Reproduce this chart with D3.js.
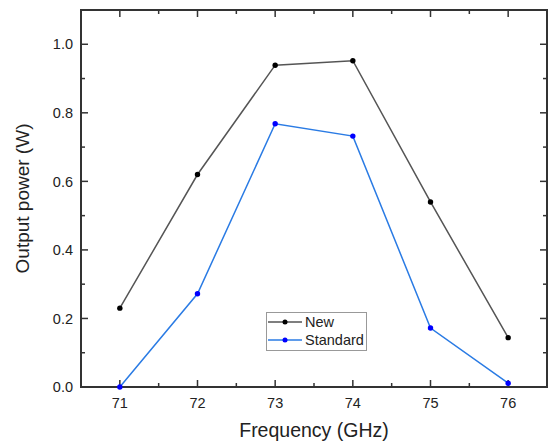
<!DOCTYPE html>
<html>
<head>
<meta charset="utf-8">
<script src="https://cdn.jsdelivr.net/npm/d3@7"></script>
<style>
  body { margin: 0; background: #fff; }
  svg { font-family: "Liberation Sans", Arial, sans-serif; }
</style>
</head>
<body>
<div id="chart"></div>
<script>
const frequencies = [71, 72, 73, 74, 75, 76];
const newPower = [0.23, 0.62, 0.939, 0.952, 0.54, 0.144];
const standardPower = [0.0, 0.272, 0.768, 0.732, 0.172, 0.011];
const xTicks = [71, 72, 73, 74, 75, 76];
const yTicks = [0.0, 0.2, 0.4, 0.6, 0.8, 1.0];

const width = 552;
const height = 443;
const margin = { top: 10, right: 5, bottom: 56, left: 81 };

const svg = d3.select('#chart')
    .append('svg')
        .attr('width', width)
        .attr('height', height);

const x = d3.scaleLinear()
    .domain([70.5, 76.5])
    .range([margin.left, width - margin.right]);

const y = d3.scaleLinear()
    .domain([0, 1.1])
    .range([height - margin.bottom, margin.top]);

const axisColor = '#333';
const x0 = margin.left, x1 = width - margin.right;
const y0 = height - margin.bottom, y1 = margin.top;

// ticks, pointing inward, on all four sides
const xMinor = d3.range(71.5, 76.5, 1);
const yMinor = d3.range(0.1, 1.1, 0.2);

const ticks = svg.append('g').attr('stroke', axisColor).attr('stroke-width', 1.5);
xTicks.forEach(v => {
    ticks.append('line').attr('x1', x(v)).attr('x2', x(v)).attr('y1', y0).attr('y2', y0 - 7);
    ticks.append('line').attr('x1', x(v)).attr('x2', x(v)).attr('y1', y1).attr('y2', y1 + 7);
});
xMinor.forEach(v => {
    ticks.append('line').attr('x1', x(v)).attr('x2', x(v)).attr('y1', y0).attr('y2', y0 - 4);
    ticks.append('line').attr('x1', x(v)).attr('x2', x(v)).attr('y1', y1).attr('y2', y1 + 4);
});
yTicks.forEach(v => {
    ticks.append('line').attr('x1', x0).attr('x2', x0 + 7).attr('y1', y(v)).attr('y2', y(v));
    ticks.append('line').attr('x1', x1).attr('x2', x1 - 7).attr('y1', y(v)).attr('y2', y(v));
});
yMinor.forEach(v => {
    ticks.append('line').attr('x1', x0).attr('x2', x0 + 4).attr('y1', y(v)).attr('y2', y(v));
    ticks.append('line').attr('x1', x1).attr('x2', x1 - 4).attr('y1', y(v)).attr('y2', y(v));
});

svg.append('rect')
    .attr('x', x0)
    .attr('y', y1)
    .attr('width', x1 - x0)
    .attr('height', y0 - y1)
    .attr('fill', 'none')
    .attr('stroke', axisColor)
    .attr('stroke-width', 2);

// tick labels
svg.append('g')
    .selectAll('text')
    .data(xTicks)
    .join('text')
        .attr('x', d => x(d))
        .attr('y', y0 + 21)
        .attr('text-anchor', 'middle')
        .attr('font-size', 14.5)
        .attr('fill', '#222')
        .text(d => d);

svg.append('g')
    .selectAll('text')
    .data(yTicks)
    .join('text')
        .attr('x', x0 - 8)
        .attr('y', d => y(d) + 5.2)
        .attr('text-anchor', 'end')
        .attr('font-size', 14.5)
        .attr('fill', '#222')
        .text(d => d.toFixed(1));

// axis titles
svg.append('text')
    .attr('x', (x0 + x1) / 2)
    .attr('y', 437)
    .attr('text-anchor', 'middle')
    .attr('font-size', 19.5)
    .attr('fill', '#222')
    .text('Frequency (GHz)');

svg.append('text')
    .attr('transform', `translate(29, ${(y0 + y1) / 2}) rotate(-90)`)
    .attr('text-anchor', 'middle')
    .attr('font-size', 19)
    .attr('fill', '#222')
    .text('Output power (W)');

// series
const series = [
    { name: 'New', values: newPower, line: '#555', dot: '#000' },
    { name: 'Standard', values: standardPower, line: '#2a7be4', dot: '#0000ff' }
];

const line = d3.line()
    .x((d, i) => x(frequencies[i]))
    .y(d => y(d));

series.forEach(s => {
    svg.append('path')
        .attr('d', line(s.values))
        .attr('fill', 'none')
        .attr('stroke', s.line)
        .attr('stroke-width', 1.5);
    svg.append('g')
        .selectAll('circle')
        .data(s.values)
        .join('circle')
            .attr('cx', (d, i) => x(frequencies[i]))
            .attr('cy', d => y(d))
            .attr('r', 2.7)
            .attr('fill', s.dot);
});

// legend
const legend = svg.append('g');
legend.append('rect')
    .attr('x', 266.5)
    .attr('y', 312.5)
    .attr('width', 100)
    .attr('height', 38)
    .attr('fill', '#fff')
    .attr('stroke', '#999')
    .attr('stroke-width', 1);

series.forEach((s, i) => {
    const ly = 322 + i * 18;
    legend.append('line')
        .attr('x1', 268)
        .attr('x2', 302)
        .attr('y1', ly)
        .attr('y2', ly)
        .attr('stroke', s.line)
        .attr('stroke-width', 1.5);
    legend.append('circle')
        .attr('cx', 285)
        .attr('cy', ly)
        .attr('r', 2.5)
        .attr('fill', s.dot);
    legend.append('text')
        .attr('x', 305)
        .attr('y', ly + 5)
        .attr('font-size', 14.5)
        .attr('fill', '#222')
        .text(s.name);
});
</script>
</body>
</html>
